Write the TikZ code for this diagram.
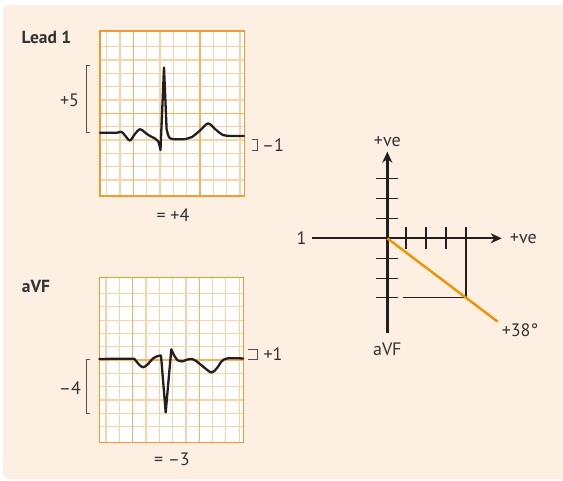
\documentclass[tikz,border=0pt]{standalone}
\usepackage{fontspec}
\setmainfont{PT Sans}
\usetikzlibrary{arrows.meta}
\definecolor{bgpeach}{HTML}{FDF0E3}
\definecolor{gminor}{HTML}{FBD2A5}
\definecolor{gmajor}{HTML}{F8B062}
\definecolor{gborder}{HTML}{F39A33}
\definecolor{oline}{HTML}{F39200}
\definecolor{ink}{HTML}{231F20}
\definecolor{txt}{HTML}{333333}
\newcommand\ecggridat[2]{%
  \begin{scope}[shift={(#1,#2)}]
    \fill[white] (0,0) rectangle (144.3,165);
    \foreach \k in {0,...,10} {
      \draw[minorline] ({6.67+13.33*\k},0) -- ++(0,165);
      \draw[minorline] (0,{15.7+13.33*\k}) -- ++(144.3,0);
    }
    \draw[majorline] (33.3,0) -- ++(0,165);
    \draw[majorline] (100,0) -- ++(0,165);
    \draw[majorline] (0,82.3) -- ++(144.3,0);
    \draw[borderline] (0,0) rectangle (144.3,165);
  \end{scope}}
\begin{document}
\begin{tikzpicture}[x=1pt,y=-1pt,
  minorline/.style={gminor,line width=1.1pt},
  majorline/.style={gmajor,line width=1.5pt},
  borderline/.style={gborder,line width=1.5pt},
  trace/.style={ink,line width=2.3pt,line join=round,line cap=round},
  bracket/.style={txt!85,line width=1pt},
  lbl/.style={txt,font=\fontsize{18}{21}\selectfont,inner sep=0pt},
  title/.style={txt,font=\fontsize{17.5}{21}\selectfont\bfseries,inner sep=0pt},
  axis/.style={ink,line width=2.4pt},
  tick/.style={ink,line width=1.3pt},
  drop/.style={ink,line width=1.2pt}]
\useasboundingbox (0,0) rectangle (563,481);
\fill[bgpeach, rounded corners=6pt] (3,5) rectangle (580,479);

% ---------- Lead 1 ----------
\node[title] (t1) at (46.5,37.5) {Lead 1};
\ecggridat{100}{31}
\draw[trace] plot[smooth,tension=0.55] coordinates {(100,132.8) (117,132.7) (121.5,131.8) (125,135.5) (130,140.5) (134.5,134.5) (140,129.2) (145,132.5) (150,136) (155,138.5) (158.3,141.5) (160.5,150)}
  -- (164,67.5) -- (166.6,129)
  -- plot[smooth,tension=0.55] coordinates {(166.6,129) (168.5,136) (172,139) (186,139) (192,137) (200,130.5) (208,123.5) (215,129) (223,135) (232,136) (244,136)};
\draw[bracket] (90,66) -- (86.7,66) -- (86.7,132.7) -- (90,132.7);
\node[lbl] (p5) at (69.5,100) {+5};
\draw[bracket] (252,139.5) -- (257.5,139.5) -- (257.5,150.5) -- (252,150.5);
\node[lbl] (m1) at (273,145) {–1};
\node[lbl] (r1) at (173,215) {= +4};

% ---------- aVF ----------
\node[title] (t2) at (36,286) {aVF};
\ecggridat{99.3}{277.7}
\draw[trace] plot[smooth,tension=0.55] coordinates {(99.3,359) (131,358.7) (135,359.8) (139,364.5) (143.3,367.3) (148,364) (153,358.5) (158,356) (161,355.5)}
  -- (165.7,412.5) -- (171.3,349.3)
  -- plot[smooth,tension=0.55] coordinates {(171.3,349.3) (174.5,356) (178,360.5) (182,361.5) (186,360) (191.5,359) (196,361) (203,366.5) (211.5,372.5) (217,368) (222,361) (228,358.3) (243.3,358.5)};
\draw[bracket] (89.5,359.3) -- (86,359.3) -- (86,413.3) -- (89.5,413.3);
\node[lbl] (m4) at (70,388) {–4};
\draw[bracket] (248.3,349.3) -- (257.5,349.3) -- (257.5,359.3) -- (248.3,359.3);
\node[lbl] (p1) at (273,354) {+1};
\node[lbl] (r2) at (172,459) {= –3};

% ---------- axes ----------
\coordinate (O) at (387.3,238.3);
\coordinate (xL) at (311.7,238.3);
\coordinate (xR) at (501.7,238.3);
\coordinate (yT) at (387.3,151.7);
\coordinate (yB) at (387.3,333.3);
\coordinate (P) at (466,297.7);
\coordinate (Pv) at (466,238.3);
\coordinate (Ph) at (402.7,297.7);
\coordinate (E) at (497.7,321.7);
\foreach \yy in {178.3,198.3,218.3,258.3,278.3,297.7}
  \draw[tick] (376.3,\yy) -- (398.3,\yy);
\foreach \xx in {406,426,446,466}
  \draw[tick] (\xx,227.3) -- (\xx,249.3);
\draw[drop] (Pv) -- (P);
\draw[drop] (Ph) -- (P);
\draw[axis,-{Stealth[length=11pt,width=10pt]}] (xL) -- (xR);
\draw[axis,-{Stealth[length=11pt,width=10pt]}] (yB) -- (yT);
\draw[oline,line width=2.4pt] (O) -- (E);
\node[lbl] (vt) at (387.3,141.5) {+ve};
\node[lbl] (vr) at (523.3,238.3) {+ve};
\node[lbl] (one) at (301.5,238.3) {1};
\node[lbl] (avf) at (387.3,349.5) {aVF};
\node[lbl] (deg) at (520,330) {+38°};
\end{tikzpicture}
\end{document}
